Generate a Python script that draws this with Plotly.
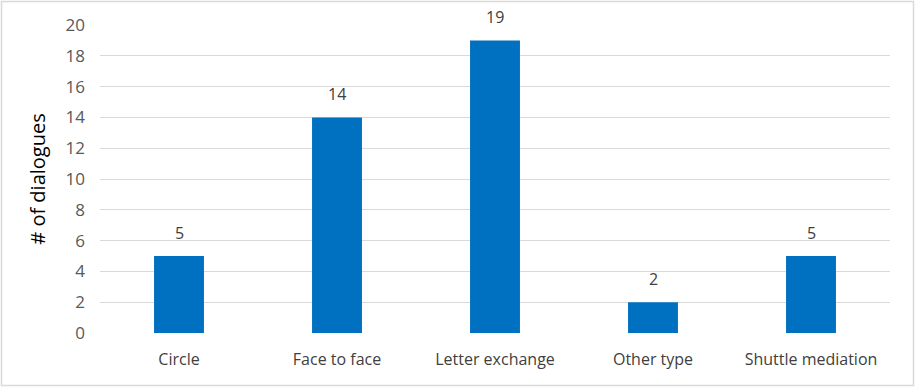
import plotly.graph_objects as go

categories = ["Circle", "Face to face", "Letter exchange", "Other type", "Shuttle mediation"]
values = [5, 14, 19, 2, 5]
y_ticks = [0, 2, 4, 6, 8, 10, 12, 14, 16, 18, 20]

W, H = 915, 387
ml, mr, mt, mb = 100, 25, 25, 54
pw, ph = W - ml - mr, H - mt - mb

def px_to_paper_x(px):
    return (px - ml) / pw

def px_to_paper_y(py):
    return (H - mb - py) / ph

fig = go.Figure(go.Bar(
    x=categories, y=values,
    marker=dict(color="#0070C0", line=dict(width=0)),
))

annotations = [dict(x=c, y=v, xref="x", yref="y", text=str(v), showarrow=False,
                    yanchor="bottom", yshift=10,
                    font=dict(color="#404040", size=16, family="Open Sans"))
               for c, v in zip(categories, values)]

fig.update_layout(
    width=W, height=H,
    margin=dict(l=ml, r=mr, t=mt, b=mb),
    paper_bgcolor="white", plot_bgcolor="white",
    bargap=0.684,
    showlegend=False,
    font=dict(family="Open Sans", color="#595959", size=15),
    xaxis=dict(showgrid=False, showline=False, ticks="outside", ticklen=12, tickcolor="rgba(0,0,0,0)",
               tickfont=dict(color="#404040", size=16)),
    yaxis=dict(range=[0, 20], tickvals=y_ticks, showgrid=True, gridcolor="#D9D9D9", gridwidth=1,
               zeroline=False, showline=False, ticks="", ticklen=0, ticklabelstandoff=14,
               tickfont=dict(color="#595959", size=17),
               title=dict(text="# of dialogues", font=dict(color="#000000", size=20, family="Open Sans"), standoff=14)),
    annotations=annotations,
    shapes=[dict(type="rect", xref="paper", yref="paper",
                 x0=px_to_paper_x(1.5), x1=px_to_paper_x(913.5),
                 y0=px_to_paper_y(1.5), y1=px_to_paper_y(385.5),
                 line=dict(color="#D9D9D9", width=1.5), fillcolor="rgba(0,0,0,0)", layer="below")],
)

fig.write_html("out.html")
